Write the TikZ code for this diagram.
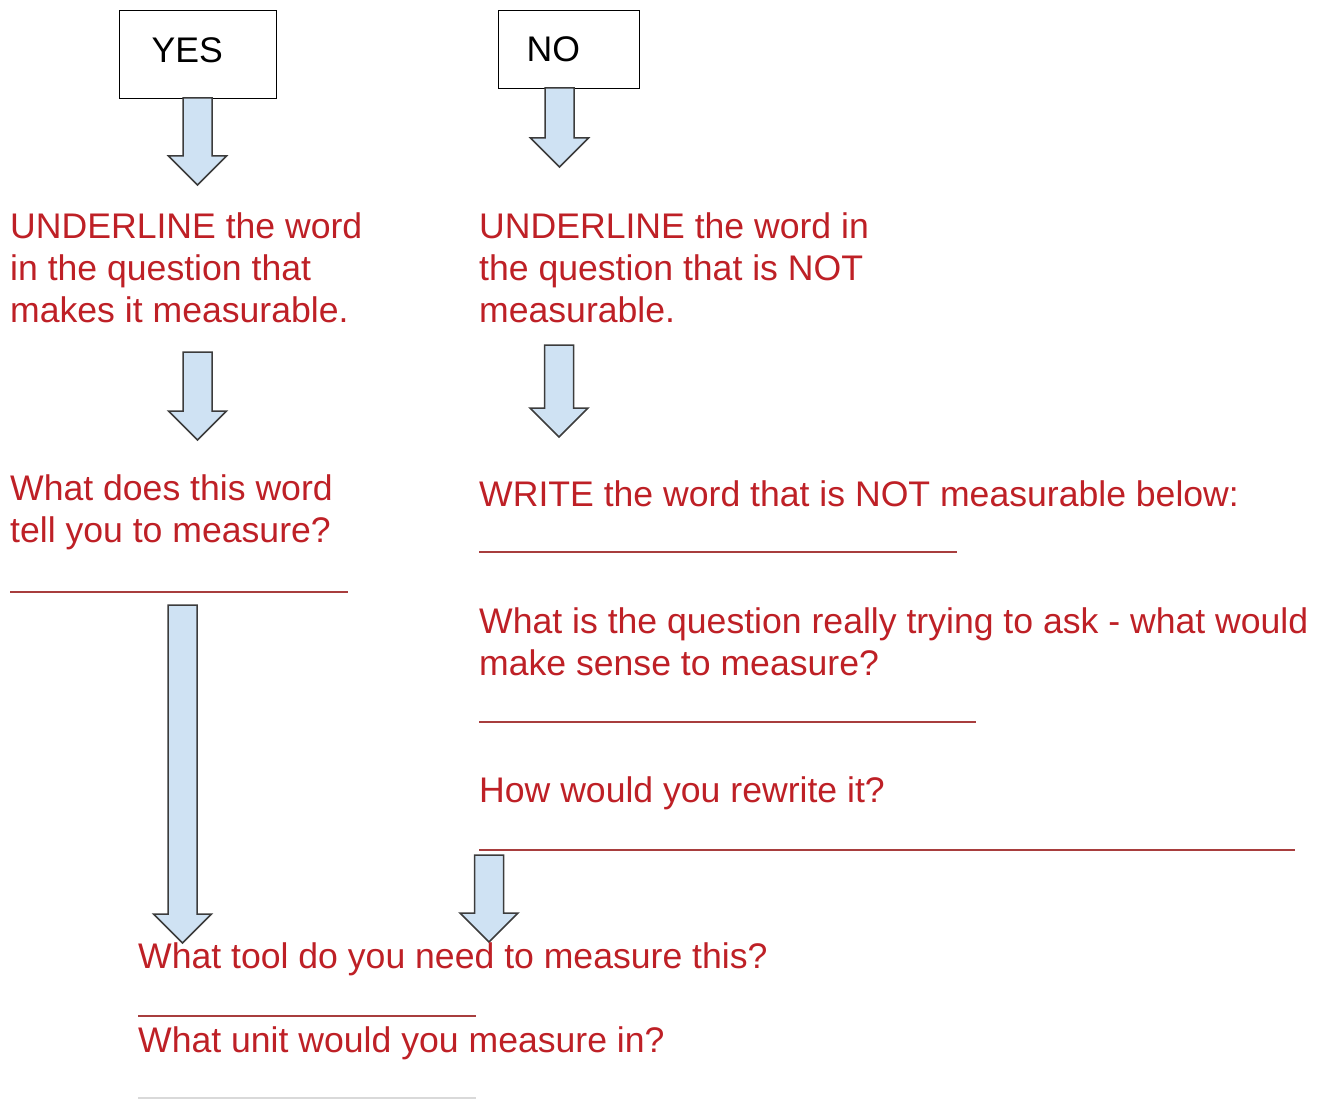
\documentclass[tikz,border=0pt]{standalone}
\usepackage{fontspec}
\setmainfont{Liberation Sans}
\usetikzlibrary{calc}
\definecolor{qred}{RGB}{190,32,38}
\definecolor{linered}{RGB}{168,62,62}
\definecolor{arrowblue}{RGB}{207,226,243}
\definecolor{arrowgray}{RGB}{60,60,60}
\tikzset{
  prompt/.style={anchor=base west, inner sep=0pt, align=left, text=qred,
    font=\fontsize{35.6}{42}\selectfont},
  choice/.style={draw=black, line width=1.2pt, anchor=north west, inner ysep=0pt,
    align=left, font=\fontsize{35.6}{42}\selectfont},
  blank/.style={draw=linered, line width=2.5pt},
  blockarrow/.style={fill=arrowblue, draw=arrowgray, line width=1.5pt}
}
% block arrow pointing down: #1 = top of shaft, #2 = tip
\newcommand{\downblock}[2]{%
  \draw[blockarrow] ($(#1)+(-14.5,0)$) -- ($(#2)+(-14.5,-29)$) -- ($(#2)+(-29,-29)$)
    -- (#2) -- ($(#2)+(29,-29)$) -- ($(#2)+(14.5,-29)$) -- ($(#1)+(14.5,0)$) -- cycle;}
\begin{document}
\begin{tikzpicture}[x=1pt,y=-1pt]
\useasboundingbox (0,0) rectangle (1330,1099);
% the two answers
\node[choice, inner xsep=32pt, text width=93pt, text height=52pt, text depth=36pt] (yes) at (119,10) {YES};
\node[choice, inner xsep=28pt, text width=85pt, text height=51pt, text depth=27pt] (no) at (498,10) {NO};
% arrow ends
\coordinate (yestop) at (197.5,98);  \coordinate (yestip) at (197.5,185);
\coordinate (notop) at (559.5,88);   \coordinate (notip) at (559.5,167);
\coordinate (ultop) at (197.5,352);  \coordinate (ultip) at (197.5,440);
\coordinate (urtop) at (559,345);    \coordinate (urtip) at (559,437);
\coordinate (longtop) at (182.5,605); \coordinate (longtip) at (182.5,943);
\coordinate (rwtop) at (489,855);    \coordinate (rwtip) at (489,942);
\downblock{yestop}{yestip}
\downblock{notop}{notip}
\downblock{ultop}{ultip}
\downblock{urtop}{urtip}
\downblock{longtop}{longtip}
\downblock{rwtop}{rwtip}
% left column (base = last line)
\node[prompt] (underyes) at (10,322) {UNDERLINE the word\\in the question that\\makes it measurable.};
\node[prompt] (askword) at (10,542) {What does this word\\tell you to measure?};
\draw[blank] (10,592) -- (348,592);
% right column
\node[prompt] (underno) at (479,322) {UNDERLINE the word in\\the question that is NOT\\measurable.};
\node[prompt] (writeword) at (479,506) {WRITE the word that is NOT measurable below:};
\draw[blank] (479,552) -- (957,552);
\node[prompt] (really) at (479,675) {What is the question really trying to ask - what would\\make sense to measure?};
\draw[blank] (479,722) -- (976,722);
\node[prompt] (rewrite) at (479,802) {How would you rewrite it?};
\draw[blank] (479,850) -- (1295,850);
% bottom
\node[prompt] (tool) at (138,968) {What tool do you need to measure this?};
\draw[blank] (138,1016) -- (476,1016);
\node[prompt] (unit) at (138,1052) {What unit would you measure in?};
\draw[draw=black!15, line width=2pt] (138,1098) -- (476,1098);
\end{tikzpicture}
\end{document}
